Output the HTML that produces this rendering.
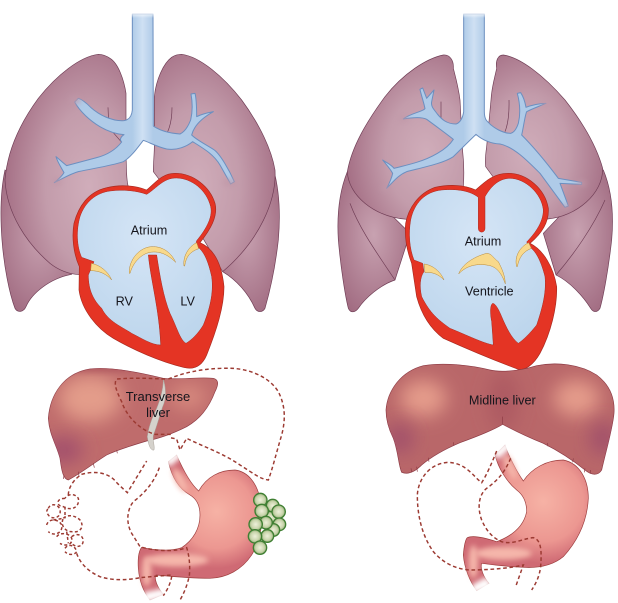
<!DOCTYPE html>
<html><head><meta charset="utf-8">
<style>
html,body{margin:0;padding:0;background:#fff}
svg{display:block}
text{font-family:"Liberation Sans",Arial,sans-serif;fill:#15151c;text-anchor:middle}
</style></head>
<body>
<svg width="618" height="603" viewBox="0 0 618 603" xmlns="http://www.w3.org/2000/svg">
<defs>
<radialGradient id="lungA" cx=".68" cy=".6" r=".7"><stop offset="0" stop-color="#d0adba"/><stop offset=".5" stop-color="#c39cab"/><stop offset="1" stop-color="#a46e84"/></radialGradient>
<radialGradient id="lungC" cx=".36" cy=".6" r=".7"><stop offset="0" stop-color="#d0adba"/><stop offset=".5" stop-color="#c39cab"/><stop offset="1" stop-color="#a46e84"/></radialGradient>
<radialGradient id="lungB" cx=".5" cy=".45" r=".65"><stop offset="0" stop-color="#c8a2b1"/><stop offset="1" stop-color="#a06a80"/></radialGradient>
<radialGradient id="blue" cx=".5" cy=".35" r=".7"><stop offset="0" stop-color="#d5e5f6"/><stop offset="1" stop-color="#bcd5ec"/></radialGradient>
<linearGradient id="air" gradientUnits="userSpaceOnUse" x1="397" x2="459" y1="0" y2="0"><stop offset="0" stop-color="#afcbe8"/><stop offset=".5" stop-color="#cfe0f3"/><stop offset="1" stop-color="#afcbe8"/></linearGradient>
<linearGradient id="air2" gradientUnits="userSpaceOnUse" x1="461" x2="523" y1="0" y2="0"><stop offset="0" stop-color="#afcbe8"/><stop offset=".5" stop-color="#cfe0f3"/><stop offset="1" stop-color="#afcbe8"/></linearGradient>
<radialGradient id="stom" gradientUnits="userSpaceOnUse" cx="650" cy="470" r="170"><stop offset="0" stop-color="#f6b2a5"/><stop offset=".65" stop-color="#ec9791"/><stop offset="1" stop-color="#cf6a74"/></radialGradient>
<radialGradient id="stom2" gradientUnits="userSpaceOnUse" cx="700" cy="440" r="185"><stop offset="0" stop-color="#f6b2a5"/><stop offset=".65" stop-color="#ec9791"/><stop offset="1" stop-color="#cf6a74"/></radialGradient>
<radialGradient id="node" cx=".5" cy=".5" r=".55"><stop offset="0" stop-color="#eef0da"/><stop offset=".6" stop-color="#c9d5ac"/><stop offset="1" stop-color="#7d9f60"/></radialGradient>
<linearGradient id="fadeT" x1="0" x2="0" y1="0" y2="1"><stop offset="0" stop-color="#fff"/><stop offset="1" stop-color="#fff" stop-opacity="0"/></linearGradient>
<filter id="b8" x="-50%" y="-50%" width="200%" height="200%"><feGaussianBlur stdDeviation="8"/></filter>
<filter id="b30" x="-60%" y="-60%" width="220%" height="220%"><feGaussianBlur stdDeviation="28"/></filter>
<clipPath id="cl1"><path d="M145,190C150,120 190,55 270,42C330,35 410,50 490,70C540,75 600,65 640,70C658,75 655,90 645,110C630,150 605,190 560,215C520,235 480,250 440,258C400,270 350,285 320,300C280,325 250,350 205,375C190,372 185,350 180,310C170,270 148,240 145,190Z"/></clipPath>
<clipPath id="cl2"><path d="M228,165C232,110 270,50 340,32C400,22 480,30 540,45C570,52 620,50 680,32C740,20 810,28 860,60C900,90 915,130 912,175C908,220 890,280 875,345C865,362 845,362 825,345C800,325 760,295 700,265C650,245 610,225 578,208C550,225 500,245 450,263C410,280 370,300 335,330C315,350 295,360 275,352C265,330 265,290 250,250C235,220 228,195 228,165Z"/></clipPath>
</defs>

<!-- LEFT THORAX -->
<g transform="scale(.33333)">
<path d="M15,510C2,570 0,640 6,720C12,800 28,880 45,925C52,938 70,938 78,920C95,880 150,835 215,823L240,700L15,510Z" fill="url(#lungB)" stroke="#6f3d55" stroke-width="2"/>
<path d="M820,505C838,570 842,640 835,720C825,810 805,890 795,925C788,938 772,938 765,925C745,880 710,840 668,815L640,700L820,505Z" fill="url(#lungB)" stroke="#6f3d55" stroke-width="2"/>
<path d="M295,163C240,170 170,225 115,295C60,370 22,450 15,540C20,640 80,730 150,790C175,810 205,822 240,824L385,560C378,540 380,500 378,470L378,280C372,240 355,190 330,175C318,167 305,163 295,163Z" fill="url(#lungA)" stroke="#6f3d55" stroke-width="2"/>
<path d="M545,163C600,170 670,230 725,300C780,375 815,450 825,510C830,600 780,720 668,815L600,700L460,515C460,490 463,460 463,440L463,290C468,240 490,190 515,172C525,165 535,163 545,163Z" fill="url(#lungC)" stroke="#6f3d55" stroke-width="2"/>
<path d="M324,322L326,368M340,398L366,428M516,322C516,350 512,375 503,395" fill="none" stroke="#6f3d55" stroke-width="2"/>
<path d="M397,42L397,330C395,352 385,360 372,362C335,364 298,345 272,322C258,308 245,298 235,295L224,306C240,335 270,362 300,380C325,395 350,402 372,404C362,410 358,420 365,426C345,452 320,465 290,473L200,497C188,488 178,478 168,470C172,485 182,500 192,518C185,530 175,538 163,548C190,535 210,522 235,515C280,505 330,498 370,485C395,470 415,440 430,421C450,428 470,440 500,447C530,452 560,440 578,425C610,445 640,462 660,495L692,552L703,545C690,515 660,460 640,448C615,432 590,420 575,405C580,385 595,360 640,335C615,340 600,345 590,350C590,325 590,300 585,280L573,282C578,310 578,335 572,360C565,378 555,395 540,402C510,400 480,392 460,378L459,42Z" fill="url(#air)" stroke="#6c8fc0" stroke-width="3" stroke-linejoin="round"/>
<rect x="385" y="36" width="86" height="18" fill="url(#fadeT)"/>
<ellipse cx="225" cy="300" rx="18" ry="14" fill="#c098a8" filter="url(#b8)" opacity=".7"/>
<ellipse cx="170" cy="545" rx="16" ry="12" fill="#c098a8" filter="url(#b8)" opacity=".7"/>
<ellipse cx="690" cy="548" rx="22" ry="12" fill="#c098a8" filter="url(#b8)" opacity=".7"/>
<!-- heart -->
<path d="M440,570C465,550 485,520 525,520C580,520 630,560 645,610C655,650 630,690 600,728C640,745 665,790 672,860C672,920 650,990 620,1065C605,1100 580,1110 550,1102C480,1085 400,1050 340,1015C290,985 245,930 237,870L238,800C220,760 215,710 222,670C235,620 265,575 320,563C365,552 410,558 440,570Z" fill="#e43424" stroke="#a82a20" stroke-width="2"/>
<path d="M440,583C470,565 490,533 530,534C575,535 620,570 632,620C640,655 612,695 590,722L586,736C612,750 625,785 635,830C642,880 628,930 610,975C595,1000 575,1020 558,1030C540,1020 530,980 510,940C490,890 480,830 470,765L445,765C452,840 478,930 482,1035C455,1035 425,1015 395,1000C365,980 325,965 305,925C280,900 265,870 265,825L282,785L245,772C230,740 228,690 240,650C255,605 290,578 330,573C370,568 410,572 440,583Z" fill="url(#blue)" stroke="#a82a20" stroke-width="1.5"/>
<path d="M388,820C385,780 420,738 460,740C490,740 515,760 527,787C505,765 480,752 450,757C425,762 400,785 390,820Z" fill="#f8d98c" stroke="#b5873a" stroke-width="1.5"/>
<path d="M552,798C548,770 565,740 590,728L596,746C570,755 558,770 554,798Z" fill="#f8d98c" stroke="#b5873a" stroke-width="1.5"/>
<path d="M274,790C300,795 325,815 335,840C320,822 298,812 272,812Z" fill="#f8d98c" stroke="#b5873a" stroke-width="1.5"/>
<text x="447" y="704" font-size="38">Atrium</text>
<text x="373" y="916" font-size="38">RV</text>
<text x="563" y="916" font-size="38">LV</text>
</g>

<!-- RIGHT THORAX -->
<g transform="translate(310,0) scale(.33333)">
<path d="M112,515C90,570 80,640 85,720C92,800 105,885 115,925C122,940 135,938 145,925C165,895 210,855 255,840L300,700L112,515Z" fill="url(#lungB)" stroke="#6f3d55" stroke-width="2"/>
<path d="M880,510C905,570 912,640 905,720C895,810 880,890 870,925C862,938 850,938 842,925C820,890 780,845 738,825L700,700L880,510Z" fill="url(#lungB)" stroke="#6f3d55" stroke-width="2"/>
<path d="M120,610C150,690 205,765 255,840" fill="none" stroke="#6f3d55" stroke-width="2"/>
<path d="M885,600C850,680 790,765 738,825" fill="none" stroke="#6f3d55" stroke-width="2"/>
<path d="M400,165C350,175 280,220 225,290C170,365 125,440 112,515C115,585 190,650 290,658L460,560C462,530 462,490 458,455L450,300C445,260 435,225 430,205C432,180 418,163 400,165Z" fill="url(#lungA)" stroke="#6f3d55" stroke-width="2"/>
<path d="M580,165C630,172 700,225 765,300C820,370 860,440 878,505C880,580 800,650 712,657L600,600L527,500C525,480 527,460 530,440L543,300C545,260 555,230 560,205C556,180 565,165 580,165Z" fill="url(#lungC)" stroke="#6f3d55" stroke-width="2"/>
<path d="M393,305L393,355M597,300C598,340 595,370 585,395" fill="none" stroke="#6f3d55" stroke-width="2"/>
<path d="M461,42L461,335C458,355 450,368 438,372C410,372 395,358 382,342C372,328 362,320 365,305L372,270L350,295L338,264L330,268C335,290 342,310 345,326C340,335 300,340 280,357C310,352 335,350 350,358C380,380 410,402 430,418C410,450 360,475 320,487C295,495 270,500 252,505C245,495 230,488 218,480C230,495 240,505 248,520C245,535 238,550 230,565C250,545 265,525 290,515C340,502 400,490 430,470C455,445 480,420 498,403C515,418 540,430 570,432C610,440 650,480 690,520L765,622L775,618L750,550L815,553L815,547L745,535C715,495 670,440 635,405C640,385 645,345 650,335C670,325 690,318 708,310C690,310 665,315 648,322C645,305 640,290 632,278L622,280C630,310 632,340 625,370C620,385 612,398 602,400C580,400 550,385 530,362C524,355 523,345 523,335L523,42Z" fill="url(#air2)" stroke="#6c8fc0" stroke-width="3" stroke-linejoin="round"/>
<rect x="450" y="36" width="84" height="18" fill="url(#fadeT)"/>
<ellipse cx="280" cy="357" rx="16" ry="10" fill="#c098a8" filter="url(#b8)" opacity=".7"/>
<ellipse cx="708" cy="310" rx="16" ry="10" fill="#c098a8" filter="url(#b8)" opacity=".7"/>
<ellipse cx="815" cy="550" rx="16" ry="10" fill="#c098a8" filter="url(#b8)" opacity=".7"/>
<ellipse cx="770" cy="622" rx="14" ry="10" fill="#c098a8" filter="url(#b8)" opacity=".7"/>
<ellipse cx="228" cy="565" rx="14" ry="10" fill="#c098a8" filter="url(#b8)" opacity=".7"/>
<path d="M497,570C525,545 550,520 595,520C650,520 705,565 715,625C718,670 690,705 660,730C700,750 730,800 740,860C742,920 722,1000 690,1060C670,1095 645,1112 625,1108C590,1095 500,1060 400,1015C360,985 335,945 320,890L305,790C290,750 283,710 287,670C295,625 325,580 375,562C420,552 465,555 497,570Z" fill="#e43424" stroke="#a82a20" stroke-width="2"/>
<path d="M505,592L505,685C505,700 525,700 525,685L525,590C545,555 570,535 600,535C645,535 695,580 700,630C700,670 670,705 650,726L660,742C680,755 695,790 705,830C710,880 695,930 680,975C660,1000 640,1020 625,1030C605,1015 590,985 575,950C565,925 555,910 548,910C540,915 540,940 545,965L550,1035C520,1030 470,1005 420,985C385,960 360,940 335,890C328,860 330,830 342,815L338,790L312,780C298,745 295,700 302,660C312,610 345,575 395,570C440,566 480,572 505,592Z" fill="url(#blue)" stroke="#a82a20" stroke-width="1.5"/>
<path d="M446,822C455,795 490,770 530,760C545,760 550,775 565,785C575,805 585,825 586,852C575,820 560,800 535,796C505,790 470,795 446,822Z" fill="#f8d98c" stroke="#b5873a" stroke-width="1.5"/>
<path d="M620,800C612,770 630,740 656,728L664,745C640,755 628,770 622,800Z" fill="#f8d98c" stroke="#b5873a" stroke-width="1.5"/>
<path d="M342,792C368,795 392,815 402,840C385,822 365,815 345,818Z" fill="#f8d98c" stroke="#b5873a" stroke-width="1.5"/>
<text x="519" y="736" font-size="38">Atrium</text>
<text x="538" y="886" font-size="38">Ventricle</text>
</g>

<!-- LEFT ABDOMEN -->
<g transform="translate(0,355) scale(.33333)">
<path d="M145,190C150,120 190,55 270,42C330,35 410,50 490,70C540,75 600,65 640,70C658,75 655,90 645,110C630,150 605,190 560,215C520,235 480,250 440,258C400,270 350,285 320,300C280,325 250,350 205,375C190,372 185,350 180,310C170,270 148,240 145,190Z" fill="#bf6c6c" stroke="#8c3a44" stroke-width="2"/>
<g clip-path="url(#cl1)">
<ellipse cx="270" cy="130" rx="95" ry="70" fill="#e39c8a" filter="url(#b30)"/>
<ellipse cx="565" cy="125" rx="55" ry="35" fill="#d98c80" filter="url(#b30)"/>
<ellipse cx="190" cy="285" rx="60" ry="40" fill="#a24f6c" filter="url(#b30)"/>
<ellipse cx="290" cy="40" rx="120" ry="12" fill="#a8505a" filter="url(#b8)" opacity=".6"/>
</g>
<path d="M190,372L192,360M235,350L237,362M280,325L283,338M350,285L352,295" stroke="#8c3a44" stroke-width="2" fill="none"/>
<path d="M490,72C498,100 500,130 488,155C478,185 470,215 462,235C455,250 465,270 462,285C452,288 445,270 442,245C445,220 455,190 470,160C482,130 490,100 490,72Z" fill="#d5d2cc" stroke="#a9a39b" stroke-width="1.5"/>
<path d="M505,320L530,300C545,335 570,385 596,408C620,365 660,345 705,345C745,350 770,385 780,430C792,490 785,550 755,600C725,645 680,668 630,670C580,670 520,665 468,660C462,670 470,695 490,718L450,735C430,710 418,680 415,640C413,610 415,590 425,577C460,585 510,590 545,578C580,555 600,520 600,480C600,450 590,432 570,420C535,400 515,365 505,320Z" fill="url(#stom)" stroke="#9c3c3c" stroke-width="2"/>
<ellipse cx="530" cy="615" rx="95" ry="20" fill="#f5b6aa" filter="url(#b8)"/>
<ellipse cx="440" cy="650" rx="14" ry="45" fill="#f5b6aa" filter="url(#b8)"/>
<ellipse cx="540" cy="375" rx="14" ry="40" fill="#f5b6aa" filter="url(#b8)" transform="rotate(-28 540 375)"/>
<path d="M490,318L535,285L545,305L510,335Z" fill="#fff" filter="url(#b8)"/>
<path d="M430,745L505,725L490,700L430,712Z" fill="#fff" filter="url(#b8)"/>
<text x="475" y="0" font-size="1" fill="none"></text>
<g fill="url(#node)" stroke="#3f7f32" stroke-width="4">
<circle cx="812" cy="488" r="19"/><circle cx="818" cy="452" r="19"/><circle cx="781" cy="435" r="20"/><circle cx="836" cy="470" r="20"/><circle cx="785" cy="468" r="20"/><circle cx="838" cy="508" r="19"/><circle cx="820" cy="525" r="19"/><circle cx="798" cy="503" r="19"/><circle cx="767" cy="508" r="20"/><circle cx="802" cy="543" r="19"/><circle cx="765" cy="544" r="20"/><circle cx="780" cy="578" r="20"/>
</g>
<g fill="none" stroke="#9c3a32" stroke-width="4.4" stroke-dasharray="11 8">
<path d="M505,72C570,45 640,38 700,40C760,45 810,70 835,110C855,150 858,190 845,240C830,290 818,340 805,375C780,372 760,355 720,330C670,295 610,275 560,250L540,285L530,252L510,248"/>
<path d="M495,72C450,70 400,68 350,72C340,85 350,110 365,140C380,185 420,225 465,238L520,238"/>
<path d="M205,420C205,395 225,370 245,358C290,345 330,355 352,385L382,413L440,318"/>
<path d="M478,338C465,375 440,410 400,440C380,465 378,505 395,535L420,575C470,590 530,590 560,578C570,610 570,640 568,662C562,690 552,715 540,735"/>
<path d="M230,595C240,625 265,650 300,665C340,678 385,675 420,668C450,665 490,662 516,660C512,685 502,705 490,722"/>
</g>
<g fill="none" stroke="#9c3a32" stroke-width="4.4" stroke-dasharray="9 7">
<path d="M195,430C165,430 170,455 190,455C215,470 240,455 235,430C225,415 205,415 195,430"/>
<path d="M145,460C150,445 175,445 180,465C185,490 155,495 145,480C138,470 140,465 145,460"/>
<path d="M140,510C145,490 175,490 185,510C190,535 160,545 145,530"/>
<path d="M190,490C200,478 225,480 240,495C255,515 240,535 215,530C195,530 180,510 190,490"/>
<path d="M170,545C180,530 210,535 215,550C220,570 195,575 180,565"/>
<path d="M215,545C235,530 255,545 248,565C240,580 220,575 212,560"/>
<path d="M195,580C205,565 225,570 230,590C225,600 205,602 195,590"/>
<path d="M195,455L195,490M160,495L190,490M200,530L205,565"/>
</g>
</g>

<!-- RIGHT ABDOMEN -->
<g transform="translate(310,355) scale(.33333)">
<path d="M228,165C232,110 270,50 340,32C400,22 480,30 540,45C570,52 620,50 680,32C740,20 810,28 860,60C900,90 915,130 912,175C908,220 890,280 875,345C865,362 845,362 825,345C800,325 760,295 700,265C650,245 610,225 578,208C550,225 500,245 450,263C410,280 370,300 335,330C315,350 295,360 275,352C265,330 265,290 250,250C235,220 228,195 228,165Z" fill="#b96769" stroke="#8c3a44" stroke-width="2"/>
<g clip-path="url(#cl2)">
<ellipse cx="340" cy="130" rx="70" ry="55" fill="#e59c8b" filter="url(#b30)"/>
<ellipse cx="800" cy="130" rx="70" ry="55" fill="#e59c8b" filter="url(#b30)"/>
<ellipse cx="270" cy="250" rx="40" ry="45" fill="#a0506a" filter="url(#b30)"/>
<ellipse cx="880" cy="250" rx="40" ry="50" fill="#a0506a" filter="url(#b30)"/>
<ellipse cx="580" cy="140" rx="45" ry="90" fill="#ad5a62" filter="url(#b30)"/>
</g>
<path d="M578,185L578,208M430,262L432,272M355,308L357,320M320,335L322,350M303,340L305,352M712,264L714,274M790,310L788,322M825,340L823,352M842,345L842,356" stroke="#8c3a44" stroke-width="2" fill="none"/>
<path d="M555,300L585,270C595,300 620,350 640,378C665,340 710,315 760,315C810,325 835,375 835,430C832,490 810,550 760,605C730,630 690,640 640,637C600,635 550,630 515,625C510,640 520,665 537,685L500,707C480,680 463,640 460,600C462,575 465,555 472,548C490,540 530,550 560,560C600,545 640,520 650,470C650,440 640,420 620,405C590,380 565,340 555,300Z" fill="url(#stom2)" stroke="#9c3c3c" stroke-width="2"/>
<ellipse cx="580" cy="595" rx="85" ry="20" fill="#f5b6aa" filter="url(#b8)"/>
<ellipse cx="490" cy="620" rx="14" ry="50" fill="#f5b6aa" filter="url(#b8)"/>
<ellipse cx="600" cy="335" rx="13" ry="40" fill="#f5b6aa" filter="url(#b8)" transform="rotate(-25 600 335)"/>
<path d="M545,296L590,255L605,278L565,312Z" fill="#fff" filter="url(#b8)"/>
<path d="M485,720L550,695L530,665L485,690Z" fill="#fff" filter="url(#b8)"/>
<text x="577" y="149" font-size="38">Midline liver</text>
<g fill="none" stroke="#9c3a32" stroke-width="4.4" stroke-dasharray="11 8">
<path d="M560,288C545,325 530,360 515,383C490,365 470,325 415,322C360,325 325,370 322,420C322,480 335,540 370,590C400,625 440,643 480,645C530,645 600,640 640,630L618,692"/>
<path d="M602,310C585,350 565,375 530,400C505,420 502,460 515,495C530,530 550,550 575,560C610,570 640,550 670,548C695,555 695,590 692,635C688,665 678,685 665,705"/>
</g>
</g>
<!-- liver label on top -->
<text x="158" y="401" font-size="13">Transverse</text>
<text x="158" y="417" font-size="13">liver</text>
</svg>
</body></html>
